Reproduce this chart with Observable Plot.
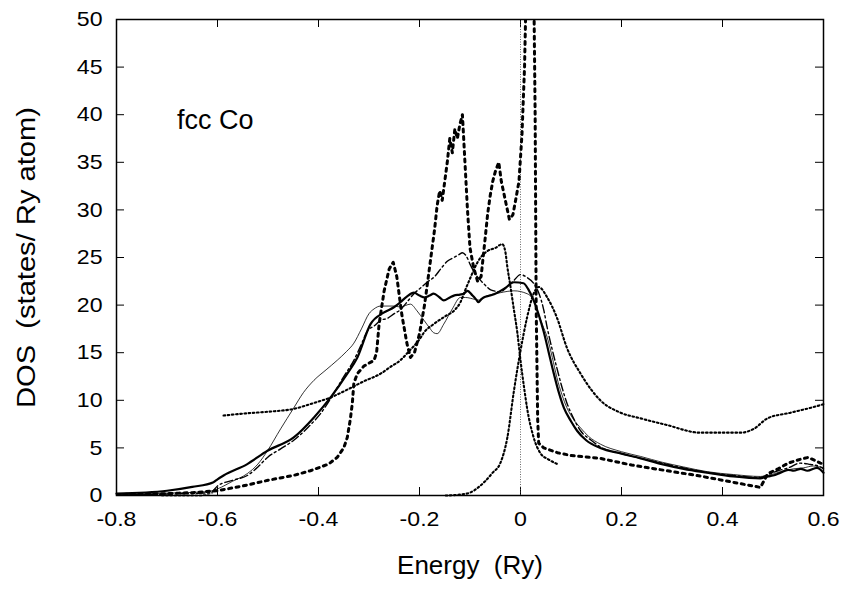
<!DOCTYPE html>
<html><head><meta charset="utf-8">
<script src="https://cdn.jsdelivr.net/npm/d3@7"></script>
<script src="https://cdn.jsdelivr.net/npm/@observablehq/plot@0.6"></script>
<style>body{margin:0;background:#fff} svg{display:block}</style>
</head><body><div id="chart"></div>
<script>
// ---- tick values / labels ----
const xTicks = [-0.8, -0.6, -0.4, -0.2, 0, 0.2, 0.4, 0.6];
const xTickLabels = ["-0.8", "-0.6", "-0.4", "-0.2", "0", "0.2", "0.4", "0.6"];
const yTicks = [0, 5, 10, 15, 20, 25, 30, 35, 40, 45, 50];
const xTitle = "Energy  (Ry)";
const yTitle = "DOS  (states/ Ry atom)";
const chartLabel = "fcc Co";
const fermiEnergy = [0];

// ---- series A: thick solid ----
const eA = [-0.8,-0.7,-0.65,-0.608,-0.6,-0.588,-0.541,-0.501,-0.449,-0.409,-0.376,-0.343,-0.323,-0.297,-0.271,-0.25,-0.238,-0.225,-0.211,-0.2,-0.19,-0.18,-0.172,-0.16,-0.152,-0.14,-0.132,-0.12,-0.112,-0.105,-0.095,-0.088,-0.083,-0.078,-0.073,-0.06,-0.046,-0.03,-0.013,0.006,0.015,0.026,0.036,0.046,0.056,0.066,0.076,0.086,0.1,0.112,0.13,0.158,0.2,0.238,0.28,0.323,0.37,0.422,0.475,0.49,0.5,0.515,0.53,0.541,0.555,0.568,0.587,0.6];
const dA = [0.2,0.5,0.9,1.4,1.7,2.1,3.3,4.7,6.1,8.2,10.3,12.8,14.5,18,19.2,19.8,20.3,20.9,21.3,21,20.8,21,21.2,20.8,20.5,20.8,21,21.1,21.2,21.5,21,20.6,20.3,20.6,20.8,21,21.3,21.8,22.4,22.3,21.7,20.5,19,17.2,15,12.8,10.8,9.2,7.8,6.8,5.8,5,4.4,3.9,3.3,2.8,2.4,2.0,1.8,2.0,2.1,2.4,2.7,2.6,2.8,2.6,2.9,2.4];

// ---- series B: thin solid ----
const eB = [-0.8,-0.7,-0.62,-0.6,-0.57,-0.541,-0.52,-0.501,-0.475,-0.449,-0.43,-0.409,-0.385,-0.363,-0.345,-0.33,-0.315,-0.3,-0.29,-0.277,-0.251,-0.238,-0.218,-0.205,-0.191,-0.18,-0.172,-0.165,-0.152,-0.135,-0.119,-0.109,-0.09,-0.079,-0.073,-0.04,-0.013,0.013,0.026,0.033,0.043,0.053,0.063,0.072,0.082,0.092,0.105,0.119,0.135,0.158,0.2,0.238,0.28,0.323,0.37,0.422,0.475,0.49,0.515,0.54,0.56,0.58,0.6];
const dB = [0.1,0.25,0.4,0.7,1.5,2.3,3.3,4.7,7,9.2,10.8,12.1,13.2,14.2,15.1,16,17.5,19.1,19.6,19.9,19.9,19.8,20.1,19.4,18.4,17.6,17.1,17,18,19.6,20.8,20.8,20.6,20.5,20.8,21.3,21.5,21.2,20.5,19.4,18,16.6,14.5,12.4,10.6,9.2,8,7.1,6.2,5.4,4.6,4.1,3.5,3.0,2.5,2.2,2.0,2.1,2.5,2.8,2.9,3.1,2.9];

// ---- series C: dash-dot ----
const eC = [-0.8,-0.7,-0.614,-0.6,-0.57,-0.541,-0.52,-0.501,-0.475,-0.449,-0.42,-0.396,-0.37,-0.35,-0.33,-0.315,-0.303,-0.29,-0.277,-0.264,-0.25,-0.238,-0.225,-0.211,-0.198,-0.185,-0.17,-0.158,-0.145,-0.132,-0.122,-0.115,-0.108,-0.099,-0.09,-0.079,-0.068,-0.059,-0.04,-0.025,-0.013,0,0.013,0.026,0.036,0.046,0.053,0.062,0.072,0.082,0.092,0.105,0.119,0.14,0.158,0.2,0.238,0.28,0.323,0.37,0.422,0.475,0.49,0.51,0.53,0.554,0.57,0.594,0.6];
const dC = [0.05,0.15,0.3,1.0,1.6,2.1,3.0,4.0,4.9,5.8,7.2,8.6,10.7,12.5,14.2,15.9,17.3,17.8,18.4,18.6,19.1,19.5,20.3,21.2,21.8,22.4,23,23.8,24.6,25,25.3,25.5,25.2,24.2,23.3,22.6,22,21.6,21.4,22,22.6,23.2,22.9,22.3,21.3,19.5,17.6,15.5,13.4,11.4,9.7,8.1,6.8,5.8,5.1,4.4,3.9,3.4,2.9,2.4,2.1,1.9,2.2,2.6,2.9,3.4,3.3,3.0,2.8];

// ---- series D: heavy dotted ----
const eD = [-0.8,-0.7,-0.65,-0.6,-0.55,-0.5,-0.45,-0.416,-0.38,-0.363,-0.35,-0.343,-0.337,-0.333,-0.33,-0.323,-0.31,-0.29,-0.285,-0.28,-0.27,-0.26,-0.252,-0.245,-0.235,-0.225,-0.218,-0.21,-0.2,-0.19,-0.18,-0.17,-0.165,-0.16,-0.155,-0.15,-0.145,-0.14,-0.135,-0.13,-0.125,-0.12,-0.115,-0.11,-0.105,-0.1,-0.093,-0.085,-0.078,-0.07,-0.065,-0.06,-0.055,-0.05,-0.043,-0.038,-0.03,-0.022,-0.015,-0.008,-0.003,0.003,0.008,0.012,0.02,0.026,0.029,0.031,0.034,0.036,0.046,0.073,0.1,0.158,0.22,0.29,0.35,0.4,0.45,0.475,0.49,0.51,0.53,0.554,0.57,0.594,0.6];
const dD = [0.1,0.2,0.3,0.5,1.0,1.6,2.1,2.6,3.3,4.0,5.0,6.1,8.0,9.7,11.8,12.8,13.6,14.2,15,18,21.5,23.8,24.5,23,19,16,14.5,15,17,20,24,28,30.5,32,31,33,35,37.5,36,38.5,37.5,39,40,35,30,26,24,22.5,23,27,29.6,31.5,33,34,35,33,31,29,29.5,31.5,33,38,45,55,60,55,40,20,8,5.5,5,4.5,4.2,3.9,3.2,2.6,2.1,1.6,1.1,0.85,2.3,2.8,3.4,3.8,4.0,3.4,3.3];

// ---- series E: fine dotted (from -0.59) ----
const eE = [-0.588,-0.55,-0.5,-0.449,-0.41,-0.376,-0.34,-0.31,-0.277,-0.258,-0.238,-0.22,-0.2,-0.19,-0.172,-0.15,-0.13,-0.119,-0.11,-0.099,-0.09,-0.079,-0.065,-0.05,-0.036,-0.03,-0.026,-0.02,-0.013,-0.006,0,0.008,0.013,0.026,0.04,0.055,0.073];
const dE = [8.4,8.6,8.8,9.1,9.7,10.3,11.2,12,12.8,13.5,14.2,15.2,16.4,17.2,18,18.8,19.5,20.3,21.5,22.9,24,25,25.7,26,26.4,25.6,24,22,19.5,17,14.2,11,9.2,6.1,4.4,3.8,3.3];

// ---- series F: fine dotted (from -0.15) ----
const eF = [-0.148,-0.12,-0.1,-0.085,-0.07,-0.055,-0.04,-0.026,-0.013,0,0.013,0.026,0.036,0.053,0.072,0.092,0.119,0.158,0.198,0.238,0.29,0.356,0.436,0.462,0.489,0.535,0.594,0.6];
const dF = [0,0.1,0.3,0.8,1.5,2.4,3.4,6.1,11,15.2,18.7,21.2,21.9,20.8,18.7,15.5,12.8,10,8.7,8.1,7.4,6.6,6.6,7,8.1,8.7,9.5,9.6];

// ---- series G: short fine dotted near zero ----
const eG = [-0.71, -0.67, -0.63, -0.61];
const dG = [0, 0, 0, 0.3];

const toRows = (es, ds) => es.map((e, i) => ({e, d: ds[i]}));

const W = 841, H = 595;
const mL = 116, mR = 18, mT = 19, mB = 100;
const pw = W - mL - mR, ph = H - mT - mB;
const tick = 8;
const font = "'Liberation Sans', Arial, Helvetica, sans-serif";

const chart = Plot.plot({
  width: W, height: H,
  marginLeft: mL, marginRight: mR, marginTop: mT, marginBottom: mB,
  style: {fontFamily: font, background: "white", color: "black"},
  x: {domain: [-0.8, 0.6]},
  y: {domain: [0, 50]},
  marks: [
    Plot.axisX({ticks: xTicks, tickFormat: (d, i) => xTickLabels[i], tickSize: 0, tickPadding: 16, fontSize: 21, label: null}),
    Plot.axisY({ticks: yTicks, tickFormat: d => String(d), tickSize: 0, tickPadding: 14, fontSize: 21, label: null}),
    Plot.tickX(xTicks, {x: d => d, insetTop: ph - tick, stroke: "black", strokeWidth: 1}),
    Plot.tickX(xTicks, {x: d => d, insetBottom: ph - tick, stroke: "black", strokeWidth: 1}),
    Plot.tickY(yTicks, {y: d => d, insetRight: pw - tick, stroke: "black", strokeWidth: 1}),
    Plot.tickY(yTicks, {y: d => d, insetLeft: pw - tick, stroke: "black", strokeWidth: 1}),
    Plot.ruleX(fermiEnergy, {x: d => d, stroke: "#444", strokeWidth: 0.8, strokeDasharray: "1,1.5"}),
    Plot.line(toRows(eG, dG), {x: "e", y: "d", stroke: "#555", strokeWidth: 2, strokeDasharray: "1.6,2.6"}),
    Plot.line(toRows(eE, dE), {x: "e", y: "d", stroke: "black", strokeWidth: 2.1, strokeDasharray: "1.6,2.6", curve: "monotone-x"}),
    Plot.line(toRows(eF, dF), {x: "e", y: "d", stroke: "black", strokeWidth: 2.1, strokeDasharray: "1.6,2.6", curve: "monotone-x"}),
    Plot.line(toRows(eD, dD), {x: "e", y: "d", stroke: "black", strokeWidth: 3, strokeDasharray: "3,4.5", clip: true}),
    Plot.line(toRows(eC, dC), {x: "e", y: "d", stroke: "black", strokeWidth: 1.4, strokeDasharray: "8,3,2,3", curve: "monotone-x"}),
    Plot.line(toRows(eB, dB), {x: "e", y: "d", stroke: "black", strokeWidth: 0.8, curve: "monotone-x"}),
    Plot.line(toRows(eA, dA), {x: "e", y: "d", stroke: "black", strokeWidth: 2.2, curve: "monotone-x"}),
    Plot.frame({stroke: "black", strokeWidth: 1.5}),
    Plot.text([chartLabel], {x: -0.68, y: 39.4, text: d => d, textAnchor: "start", fontSize: 27}),
    Plot.text([xTitle], {frameAnchor: "bottom", dy: 70, text: d => d, fontSize: 26, textAnchor: "middle", lineAnchor: "middle"}),
    Plot.text([yTitle], {frameAnchor: "left", dx: -90, text: d => d, fontSize: 26, rotate: -90, textAnchor: "middle", lineAnchor: "middle"})
  ]
});
document.getElementById("chart").appendChild(chart);

// widen the glyphs a little, as in the reference's stretched PostScript fonts
function stretch(nodes, factor) {
  nodes.forEach(t => {
    const L = t.getComputedTextLength();
    if (L > 0) {
      t.setAttribute("textLength", (L * factor).toFixed(1));
      t.setAttribute("lengthAdjust", "spacingAndGlyphs");
    }
  });
}
stretch(chart.querySelectorAll('g[aria-label="x-axis tick label"] text, g[aria-label="y-axis tick label"] text'), 1.1);
const titleNodes = Array.from(chart.querySelectorAll('g[aria-label="text"] text'));
stretch(titleNodes.filter(t => t.textContent === yTitle), 1.12);
</script>
</body></html>
